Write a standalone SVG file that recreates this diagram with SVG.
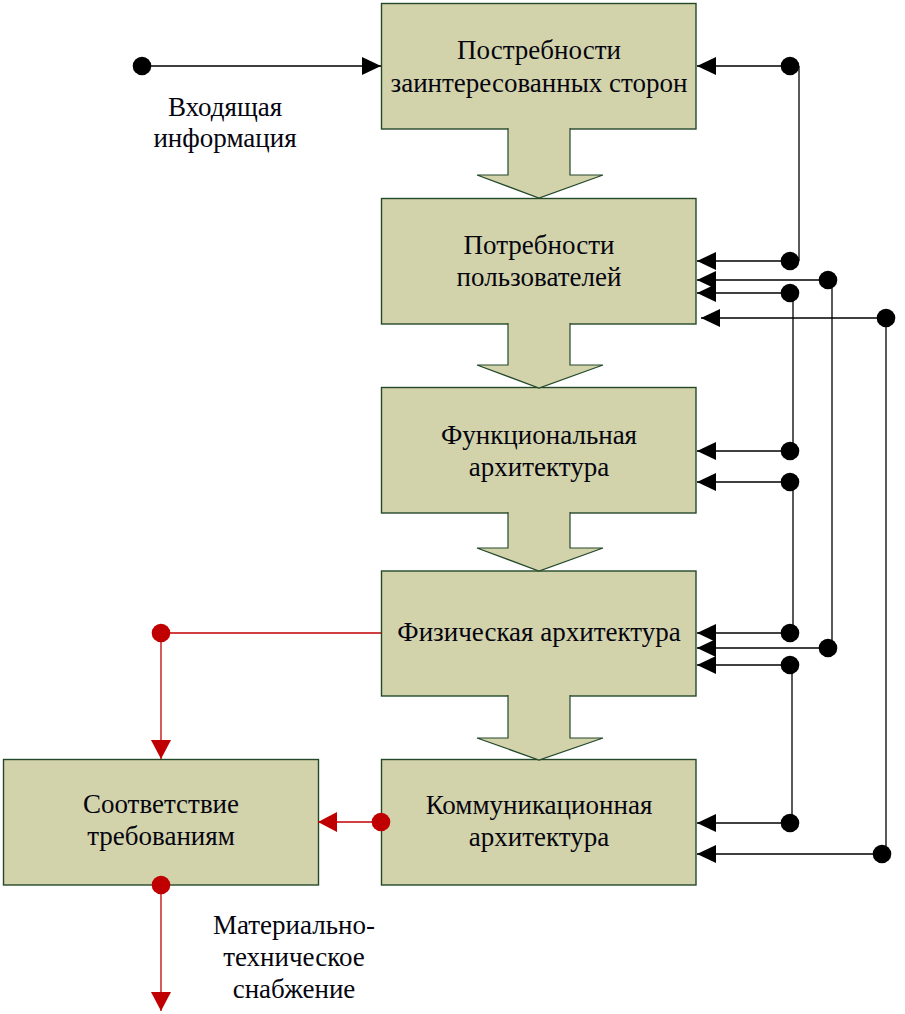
<svg xmlns="http://www.w3.org/2000/svg" width="905" height="1014" viewBox="0 0 905 1014">
<style>
.box{fill:#D3D3AB;stroke:#24492A;stroke-width:1.4}
.blk{fill:#D3D3AB;stroke:#24492A;stroke-width:1.2}
.t{font-family:"Liberation Serif","Times New Roman",serif;font-size:27px;fill:#05050f;text-anchor:middle}
.c{fill:none;stroke:#000;stroke-width:1.3}
.r{fill:none;stroke:#C00000;stroke-width:1.3}
.ab{marker-end:url(#arrB)}
.db{marker-start:url(#dotB)}
.ar{marker-end:url(#arrR)}
.dr{marker-start:url(#dotR)}
</style>
<defs>
<marker id="arrB" viewBox="0 0 19 18" refX="19" refY="9" markerWidth="19" markerHeight="18" markerUnits="userSpaceOnUse" orient="auto"><path d="M0,0 L19,9 L0,18 Z" fill="#000"/></marker>
<marker id="dotB" viewBox="-10 -10 20 20" refX="0" refY="0" markerWidth="20" markerHeight="20" markerUnits="userSpaceOnUse" orient="auto"><circle r="9.3" fill="#000"/></marker>
<marker id="arrR" viewBox="0 0 19 20" refX="19" refY="10" markerWidth="19" markerHeight="20" markerUnits="userSpaceOnUse" orient="auto"><path d="M0,0 L19,10 L0,20 Z" fill="#C00000"/></marker>
<marker id="dotR" viewBox="-10 -10 20 20" refX="0" refY="0" markerWidth="20" markerHeight="20" markerUnits="userSpaceOnUse" orient="auto"><circle r="9.3" fill="#C00000"/></marker>
</defs>
<rect width="905" height="1014" fill="#fff"/>

<g id="n1">
<rect class="box" x="381.5" y="3.5" width="314.5" height="125.5"/>
<text class="t" x="539" y="59">Постребности</text>
<text class="t" x="539" y="91.5">заинтересованных сторон</text>
</g>
<g id="n2">
<rect class="box" x="381.5" y="198.5" width="314.5" height="125.5"/>
<text class="t" x="539" y="254">Потребности</text>
<text class="t" x="539" y="286">пользователей</text>
</g>
<g id="n3">
<rect class="box" x="381.5" y="387.5" width="314.5" height="125.5"/>
<text class="t" x="539" y="444">Функциональная</text>
<text class="t" x="539" y="476">архитектура</text>
</g>
<g id="n4">
<rect class="box" x="381.5" y="571" width="314.5" height="125"/>
<text class="t" x="539" y="641">Физическая архитектура</text>
</g>
<g id="n5">
<rect class="box" x="381.5" y="759.5" width="314.5" height="125.5"/>
<text class="t" x="539" y="814">Коммуникационная</text>
<text class="t" x="539" y="846">архитектура</text>
</g>
<g id="n6">
<rect class="box" x="3.5" y="759.5" width="315" height="125.5"/>
<text class="t" x="161" y="813">Соответствие</text>
<text class="t" x="161" y="845">требованиям</text>
</g>

<g id="flow-arrows">
<path class="blk" d="M508,128 V175 H477 L539,198 L603,175 H570 V128"/>
<path class="blk" d="M508,323 V365 H477 L539,388 L603,365 H570 V323"/>
<path class="blk" d="M508,512 V548 H477 L539,571 L603,548 H570 V512"/>
<path class="blk" d="M508,695 V738 H477 L539,760 L603,738 H570 V695"/>
</g>

<g id="labels">
<text class="t" x="225" y="116">Входящая</text>
<text class="t" x="225" y="147">информация</text>
<text class="t" x="294" y="934">Материально-</text>
<text class="t" x="294" y="966">техническое</text>
<text class="t" x="294" y="998">снабжение</text>
</g>

<g id="connectors">
<path class="c db ab" d="M142,66 H381"/>
<path class="c db ab" d="M790,66 H697"/>
<path class="c" d="M799,66 V261"/>
<path class="c db ab" d="M790,261 H697"/>
<path class="c db ab" d="M828,280 H697"/>
<path class="c db ab" d="M790,293 H697"/>
<path class="c db ab" d="M886,318 H701"/>
<path class="c" d="M793,293 V451"/>
<path class="c db ab" d="M790,451 H697"/>
<path class="c db ab" d="M790,482 H697"/>
<path class="c" d="M793,482 V633"/>
<path class="c db ab" d="M790,633 H697"/>
<path class="c" d="M832,280 V648"/>
<path class="c db ab" d="M828,648 H697"/>
<path class="c db ab" d="M790,665 H697"/>
<path class="c" d="M792,665 V823"/>
<path class="c db ab" d="M790,823 H697"/>
<path class="c" d="M886,318 V854"/>
<path class="c db ab" d="M882,854 H697"/>
<path class="r" d="M381,633 H161"/>
<path class="r dr ar" d="M161,633 V759"/>
<path class="r dr ar" d="M381,822 H318"/>
<path class="r dr ar" d="M161,885 V1011"/>
</g>
</svg>
